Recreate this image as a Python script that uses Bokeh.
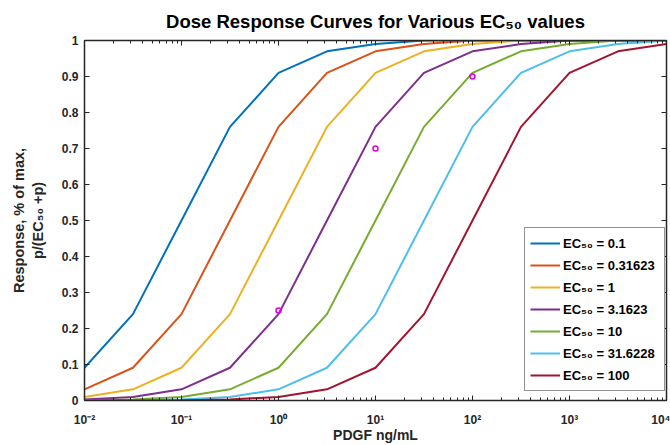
from bokeh.plotting import figure
from bokeh.models import (LogAxis, LinearAxis, LogTicker, FixedTicker, CustomJSTickFormatter,
                          Legend, LegendItem, Range1d)
from bokeh.embed import file_html
from bokeh.resources import INLINE

# ---- data ----
dose = [0.01, 0.0316, 0.1, 0.316, 1, 3.16, 10, 31.6, 100, 316, 1000, 3160, 10000]
labels = ["EC₅₀ = 0.1", "EC₅₀ = 0.31623", "EC₅₀ = 1", "EC₅₀ = 3.1623",
          "EC₅₀ = 10", "EC₅₀ = 31.6228", "EC₅₀ = 100"]
resp_ec_0_1 = [0.091, 0.24, 0.5, 0.76, 0.91, 0.97, 0.99, 1.0, 1.0, 1.0, 1.0, 1.0, 1.0]
resp_ec_0_316 = [0.031, 0.091, 0.24, 0.5, 0.76, 0.91, 0.97, 0.99, 1.0, 1.0, 1.0, 1.0, 1.0]
resp_ec_1 = [0.01, 0.031, 0.091, 0.24, 0.5, 0.76, 0.91, 0.97, 0.99, 1.0, 1.0, 1.0, 1.0]
resp_ec_3_16 = [0.003, 0.01, 0.031, 0.091, 0.24, 0.5, 0.76, 0.91, 0.97, 0.99, 1.0, 1.0, 1.0]
resp_ec_10 = [0.001, 0.003, 0.01, 0.031, 0.091, 0.24, 0.5, 0.76, 0.91, 0.97, 0.99, 1.0, 1.0]
resp_ec_31_6 = [0.0, 0.001, 0.003, 0.01, 0.031, 0.091, 0.24, 0.5, 0.76, 0.91, 0.97, 0.99, 1.0]
resp_ec_100 = [0.0, 0.0, 0.001, 0.003, 0.01, 0.031, 0.091, 0.24, 0.5, 0.76, 0.91, 0.97, 0.99]
series = [resp_ec_0_1, resp_ec_0_316, resp_ec_1, resp_ec_3_16, resp_ec_10, resp_ec_31_6, resp_ec_100]
colors = ["#0072BD", "#D95319", "#EDB120", "#7E2F8E", "#77AC30", "#4DBEEE", "#A2142F"]

obs_x = [1, 10, 100]
obs_y = [0.25, 0.7, 0.9]

y_ticks = [0, 0.1, 0.2, 0.3, 0.4, 0.5, 0.6, 0.7, 0.8, 0.9, 1]

FONT = "Liberation Sans"
AX = "#262626"

p = figure(width=670, height=445, output_backend="svg", toolbar_location=None,
           x_axis_type="log", x_range=Range1d(0.01, 10000), y_range=Range1d(0, 1),
           min_border_left=84, min_border_right=4, min_border_top=40, min_border_bottom=43,
           title="Dose Response Curves for Various EC₅₀ values")
p.outline_line_color = None
p.grid.visible = False
p.background_fill_color = "white"
p.border_fill_color = "white"

p.title.align = "center"
p.title.text_font = FONT
p.title.text_font_size = "18.5px"
p.title.text_font_style = "bold"
p.title.text_color = "black"
p.title.standoff = 17

sup = CustomJSTickFormatter(code="""
const m = {'-':'⁻','0':'⁰','1':'¹','2':'²','3':'³','4':'⁴','5':'⁵','6':'⁶','7':'⁷','8':'⁸','9':'⁹'};
const e = Math.round(Math.log10(tick));
return '10' + String(e).split('').map(c => m[c]).join('');
""")
yfmt = CustomJSTickFormatter(code="""
if (Math.abs(tick) < 1e-9) return '0';
if (Math.abs(tick - 1) < 1e-9) return '1';
return tick.toFixed(1);
""")

def style(ax):
    ax.axis_line_color = AX
    ax.axis_line_width = 1.5
    ax.major_tick_line_color = AX
    ax.minor_tick_line_color = AX
    ax.major_tick_in = 5
    ax.major_tick_out = 0
    ax.minor_tick_in = 3
    ax.minor_tick_out = 0
    ax.major_label_text_font = FONT
    ax.major_label_text_font_size = "12px"
    ax.major_label_text_font_style = "bold"
    ax.major_label_text_color = AX
    ax.axis_label_text_font = FONT
    ax.axis_label_text_font_size = "14px"
    ax.axis_label_text_font_style = "bold"
    ax.axis_label_text_color = AX

xa = p.xaxis[0]
style(xa)
xa.ticker = LogTicker(num_minor_ticks=10)
xa.formatter = sup
xa.axis_label = "PDGF ng/mL"
xa.major_label_standoff = 12
xa.axis_label_standoff = -3

ya = p.yaxis[0]
style(ya)
ya.ticker = FixedTicker(ticks=y_ticks)
ya.formatter = yfmt
ya.minor_tick_line_color = None
ya.axis_label = "Response, % of max,\np/(EC₅₀ +p)"
ya.axis_label_text_font_size = "14.5px"
ya.major_label_standoff = 6
ya.axis_label_standoff = 13

top = LogAxis(ticker=LogTicker(num_minor_ticks=10))
style(top)
top.major_label_text_font_size = "1px"
top.major_label_text_alpha = 0
top.major_label_standoff = 0
p.add_layout(top, "above")

right = LinearAxis(ticker=FixedTicker(ticks=y_ticks))
style(right)
right.minor_tick_line_color = None
right.major_label_text_font_size = "1px"
right.major_label_text_alpha = 0
right.major_label_standoff = 0
p.add_layout(right, "right")

items = []
for lab, ys, c in zip(labels, series, colors):
    r = p.line(dose, ys, line_color=c, line_width=2)
    items.append(LegendItem(label=lab, renderers=[r]))

p.scatter(obs_x, obs_y, marker="circle", size=5, line_color="#E000E0", line_width=1.5,
          fill_color=None)

leg = Legend(items=items, location=(440, 9))
leg.border_line_color = AX
leg.border_line_width = 1.5
leg.background_fill_color = "white"
leg.background_fill_alpha = 1
leg.label_text_font = FONT
leg.label_text_font_size = "13px"
leg.label_text_font_style = "bold"
leg.label_text_color = "black"
leg.glyph_width = 30
leg.glyph_height = 20
leg.label_height = 20
leg.label_width = 96
leg.spacing = 2
leg.padding = 5
leg.margin = 0
leg.label_standoff = 3
p.add_layout(leg, "center")

open("out.html", "w").write(file_html(p, INLINE))
